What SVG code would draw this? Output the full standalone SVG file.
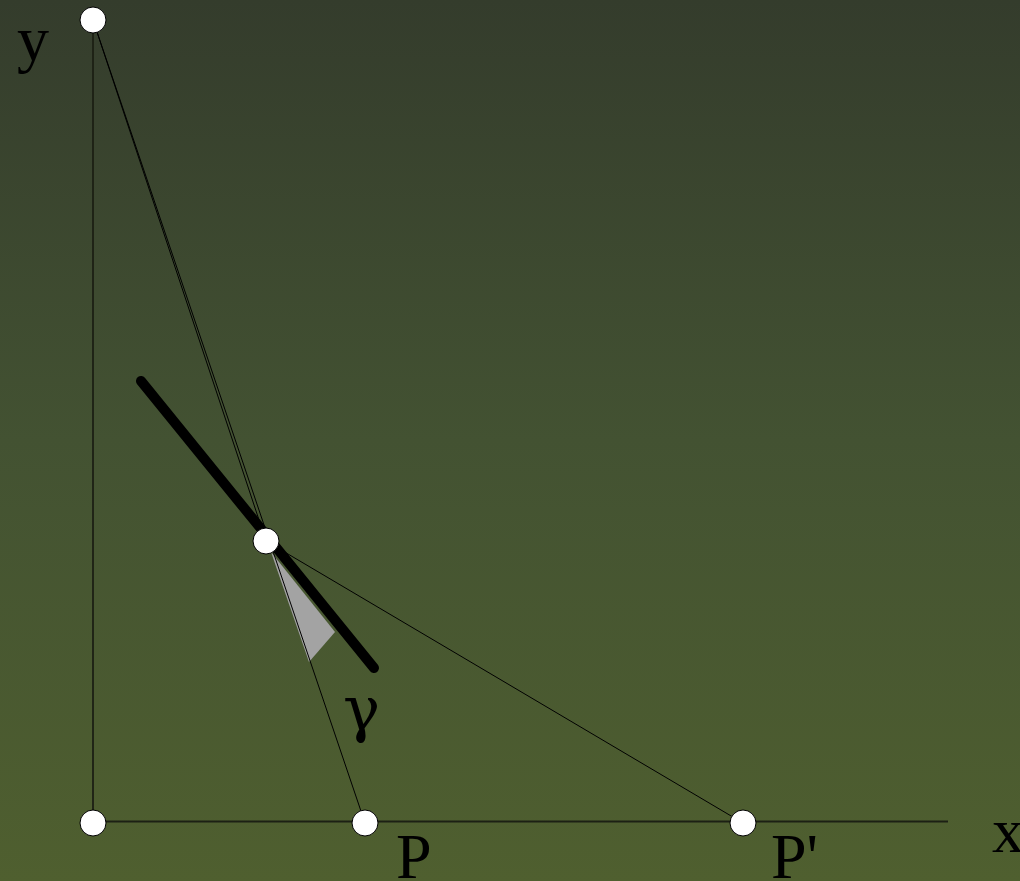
<svg xmlns="http://www.w3.org/2000/svg" width="1020" height="881" viewBox="0 0 1020 881">
  <defs>
    <linearGradient id="bg" x1="0" y1="0" x2="0" y2="1">
      <stop offset="0" stop-color="#343c2c"/>
      <stop offset="0.5" stop-color="#435232"/>
      <stop offset="1" stop-color="#4f5f2f"/>
    </linearGradient>
  </defs>
  <style>
    .axis { stroke: #1c2014; stroke-width: 1.8; fill: none; }
    .thin { stroke: #000; stroke-width: 1; fill: none; }
    .thick { stroke: #000; stroke-width: 10; stroke-linecap: round; fill: none; }
    .pt { fill: #fff; stroke: #000; stroke-width: 1; }
    .lbl { font-family: "Liberation Serif", "Times New Roman", serif; font-size: 64px; fill: #000; }
    .greek { font-family: "DejaVu Serif", "Liberation Serif", serif; font-size: 62px; fill: #000; }
  </style>
  <rect x="0" y="0" width="1020" height="881" fill="url(#bg)"/>
  <g id="connectors">
    <line class="axis" x1="93" y1="20" x2="93" y2="822"/>
    <line class="axis" x1="93" y1="821.5" x2="948" y2="821.5"/>
    <polygon points="271,552 309,662 335,632" fill="#a3a3a3"/>
    <line class="thin" x1="93" y1="20" x2="365" y2="823"/>
    <line class="thin" x1="93" y1="20" x2="266" y2="541"/>
    <line class="thin" x1="266" y1="541" x2="743" y2="823"/>
    <line class="thick" x1="141" y1="381" x2="374" y2="668"/>
  </g>
  <g id="node-top"><circle class="pt" cx="93" cy="20" r="13"/></g>
  <g id="node-mid"><circle class="pt" cx="266" cy="541" r="13"/></g>
  <g id="node-origin"><circle class="pt" cx="93" cy="823" r="13"/></g>
  <g id="node-P"><circle class="pt" cx="365" cy="823" r="13"/></g>
  <g id="node-P2"><circle class="pt" cx="743" cy="823" r="13"/></g>
  <g id="labels">
    <text class="lbl" x="17" y="60">y</text>
    <text class="lbl" x="396" y="878">P</text>
    <text class="lbl" x="771" y="878">P'</text>
    <text class="lbl" x="992" y="852">x</text>
    <text class="greek" x="343" y="730">γ</text>
  </g>
</svg>
